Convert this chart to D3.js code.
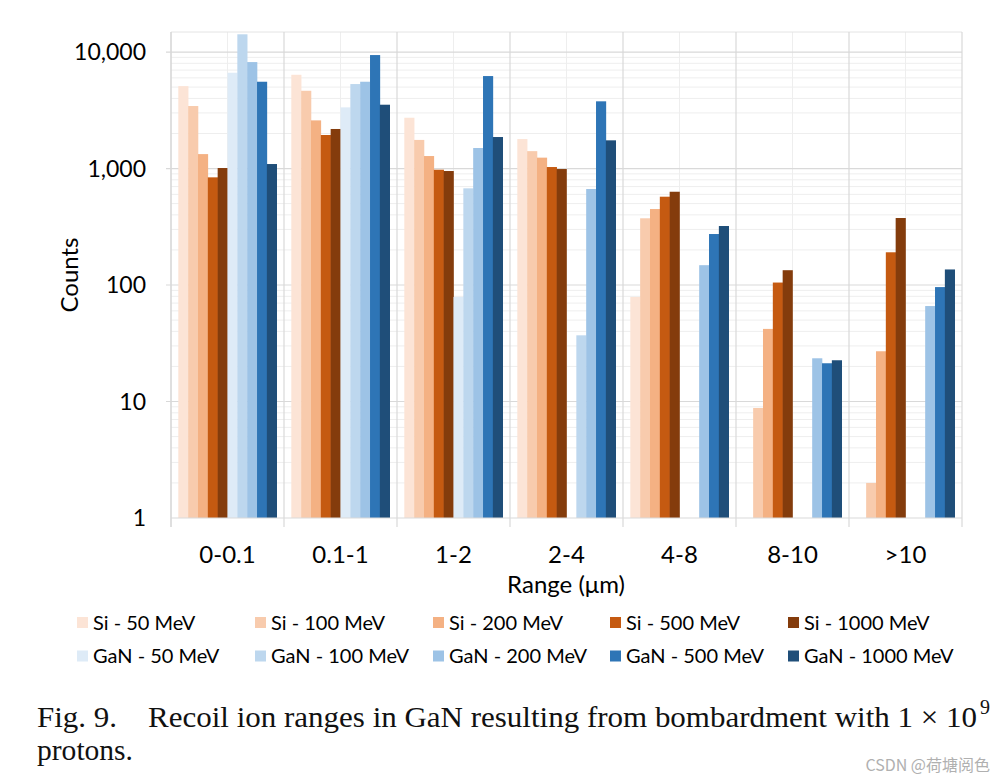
<!DOCTYPE html>
<html>
<head>
<meta charset="utf-8">
<script src="https://cdn.jsdelivr.net/npm/d3@7/dist/d3.min.js"></script>
<style>
  html, body { margin: 0; padding: 0; background: #fff; }
  svg { display: block; }
</style>
</head>
<body>
<svg id="chart" width="1004" height="782"></svg>
<script>
// ---- DATA ----
const categories = ["0-0.1", "0.1-1", "1-2", "2-4", "4-8", "8-10", ">10"];
const seriesNames = [
  "Si - 50 MeV", "Si - 100 MeV", "Si - 200 MeV", "Si - 500 MeV", "Si - 1000 MeV",
  "GaN - 50 MeV", "GaN - 100 MeV", "GaN - 200 MeV", "GaN - 500 MeV", "GaN - 1000 MeV"
];
const seriesColors = [
  "#fce4d6", "#f8cbad", "#f4b183", "#c55a11", "#843c0c",
  "#deebf7", "#bdd7ee", "#9dc3e6", "#2e75b6", "#1f4e79"
];
// values per series, one per category (null = no bar)
const si50    = [5100, 6380, 2730, 1790, 79,   null, null];
const si100   = [3440, 4650, 1760, 1410, 374,  8.8,  2.0];
const si200   = [1330, 2590, 1280, 1240, 449,  42,   27];
const si500   = [840,  1940, 977,  1030, 573,  105,  191];
const si1000  = [1010, 2185, 952,  990,  632,  134,  376];
const gan50   = [6640, 3350, 79,   null, null, null, null];
const gan100  = [14200,5310, 676,  37,   null, null, null];
const gan200  = [8200, 5560, 1500, 667,  148,  23.5, 66];
const gan500  = [5560, 9420, 6220, 3775, 274,  21.3, 96];
const gan1000 = [1093, 3530, 1864, 1746, 321,  22.6, 136];
const seriesValues = [si50, si100, si200, si500, si1000, gan50, gan100, gan200, gan500, gan1000];
const yTickValues = [1, 10, 100, 1000, 10000];
const yTickLabels = ["1", "10", "100", "1,000", "10,000"];
const xAxisTitle = "Range (\u03bcm)";
const yAxisTitle = "Counts";

// ---- LAYOUT ----
const svg = d3.select("#chart");
const plot = { left: 171, right: 962, top: 32, bottom: 518 };
const sansFont = "Lato, 'Open Sans', sans-serif";

const x = d3.scaleBand().domain(categories).range([plot.left, plot.right]).paddingInner(0).paddingOuter(0);
const xs = d3.scaleBand().domain(d3.range(seriesNames.length))
  .range([7.3, x.bandwidth() - 7.3]).padding(0);
const y = d3.scaleLog().domain([1, Math.pow(10, 4.172)]).range([plot.bottom, plot.top]);

// minor gridlines
const minorVals = [];
for (let k = 0; k < 5; k++) for (let m = 2; m <= 9; m++) {
  const v = m * Math.pow(10, k);
  if (v < y.domain()[1]) minorVals.push(v);
}
const grid = svg.append("g");
grid.selectAll("line.minor").data(minorVals).join("line")
  .attr("x1", plot.left).attr("x2", plot.right)
  .attr("y1", d => y(d)).attr("y2", d => y(d))
  .attr("stroke", "#eeeeee").attr("stroke-width", 1);
// vertical minor (mid-category)
grid.selectAll("line.vmid").data(categories).join("line")
  .attr("x1", d => x(d) + x.bandwidth() / 2).attr("x2", d => x(d) + x.bandwidth() / 2)
  .attr("y1", plot.top).attr("y2", plot.bottom)
  .attr("stroke", "#eeeeee").attr("stroke-width", 1);
// major horizontal
grid.selectAll("line.major").data(yTickValues.slice(1)).join("line")
  .attr("x1", plot.left - 5).attr("x2", plot.right)
  .attr("y1", d => y(d)).attr("y2", d => y(d))
  .attr("stroke", "#d9d9d9").attr("stroke-width", 1.2);
// top border
grid.append("line").attr("x1", plot.left).attr("x2", plot.right)
  .attr("y1", plot.top).attr("y2", plot.top).attr("stroke", "#e4e4e4").attr("stroke-width", 1);
// vertical category boundaries
const bounds = categories.map(c => x(c)).concat([plot.right]);
grid.selectAll("line.vb").data(bounds).join("line")
  .attr("x1", d => d).attr("x2", d => d)
  .attr("y1", plot.top).attr("y2", plot.bottom + 9)
  .attr("stroke", "#d9d9d9").attr("stroke-width", 1.2);

// bars
const bars = svg.append("g");
seriesValues.forEach((vals, si) => {
  bars.append("g").attr("fill", seriesColors[si])
    .selectAll("rect")
    .data(vals.map((v, ci) => ({ v, c: categories[ci] })).filter(d => d.v != null))
    .join("rect")
    .attr("x", d => x(d.c) + xs(si))
    .attr("width", xs.bandwidth() + 0.3)
    .attr("y", d => y(d.v))
    .attr("height", d => plot.bottom - y(d.v));
});

// axes lines
svg.append("line").attr("x1", plot.left).attr("x2", plot.right)
  .attr("y1", plot.bottom).attr("y2", plot.bottom).attr("stroke", "#d9d9d9").attr("stroke-width", 1.2);
svg.append("line").attr("x1", plot.left).attr("x2", plot.left)
  .attr("y1", plot.top).attr("y2", plot.bottom + 9).attr("stroke", "#d9d9d9").attr("stroke-width", 1.2);

// y tick labels
const yLab = svg.append("g").attr("font-family", sansFont).attr("font-size", 23).attr("fill", "#000");
yLab.selectAll("text").data(yTickValues).join("text")
  .attr("x", 146).attr("y", d => y(d)).attr("dy", "0.35em")
  .attr("text-anchor", "end")
  .text((d, i) => yTickLabels[i]);

// x tick labels
const xLab = svg.append("g").attr("font-family", sansFont).attr("font-size", 24).attr("fill", "#000");
xLab.selectAll("text").data(categories).join("text")
  .attr("x", d => x(d) + x.bandwidth() / 2).attr("y", 563)
  .attr("text-anchor", "middle").text(d => d);

// axis titles
svg.append("text").attr("font-family", sansFont).attr("font-size", 24)
  .attr("x", 566).attr("y", 593).attr("text-anchor", "middle").text(xAxisTitle);
svg.append("text").attr("font-family", sansFont).attr("font-size", 24)
  .attr("transform", "translate(78,275) rotate(-90)").attr("text-anchor", "middle").text(yAxisTitle);

// legend
const legX = [77, 255, 433, 610, 788];
const legY = [622.5, 656];
const leg = svg.append("g").attr("font-family", sansFont).attr("font-size", 20);
seriesNames.forEach((name, i) => {
  const col = i % 5, row = Math.floor(i / 5);
  const g = leg.append("g").attr("transform", `translate(${legX[col]},${legY[row]})`);
  g.append("rect").attr("x", 0).attr("y", -5.5).attr("width", 11).attr("height", 11).attr("fill", seriesColors[i]);
  g.append("text").attr("x", 16).attr("y", 0).attr("dy", "0.36em").text(name);
});

// caption
const cap = svg.append("g").attr("font-family", "'Liberation Serif', 'Times New Roman', serif").attr("font-size", 30).attr("fill", "#111");
cap.append("text").attr("x", 37).attr("y", 727)
  .attr("textLength", 940).attr("lengthAdjust", "spacingAndGlyphs")
  .text("Fig. 9.\u2003Recoil ion ranges in GaN resulting from bombardment with 1 \u00d7 10");
cap.append("text").attr("x", 980).attr("y", 714).attr("font-size", 20).text("9");
cap.append("text").attr("x", 37).attr("y", 760)
  .attr("textLength", 96).attr("lengthAdjust", "spacingAndGlyphs").text("protons.");

// watermark
svg.append("text").attr("font-family", "'Noto Sans CJK SC', sans-serif").attr("font-size", 16)
  .attr("fill", "#b0b0b0").attr("x", 990).attr("y", 771).attr("text-anchor", "end")
  .text("CSDN @\u8377\u5858\u9605\u8272");
</script>
</body>
</html>
